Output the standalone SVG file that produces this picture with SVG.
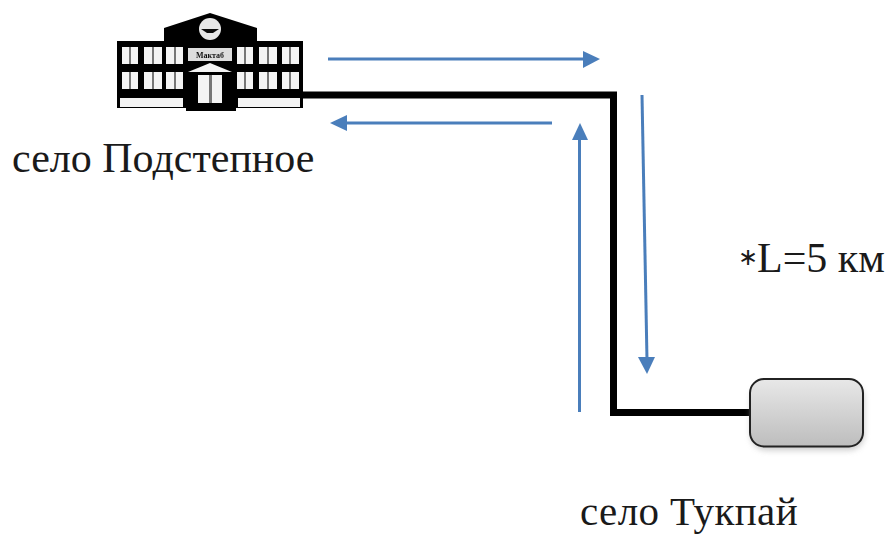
<svg xmlns="http://www.w3.org/2000/svg" width="890" height="534" viewBox="0 0 890 534">
<style>
.t{font-family:"Liberation Serif","Times New Roman",serif;font-size:42px;fill:#1a1a1a}
.a{stroke:#4a7ebb;stroke-width:3;fill:none}
.h{fill:#4a7ebb}
.w{fill:#f4f4f4}
</style>
<defs>
<linearGradient id="g" x1="0" y1="0" x2="0" y2="1"><stop offset="0" stop-color="#e8e8e8"/><stop offset="1" stop-color="#bdbdbd"/></linearGradient>
<filter id="s" x="-10%" y="-10%" width="120%" height="130%"><feGaussianBlur stdDeviation="3"/></filter>
<filter id="b" x="-2%" y="-2%" width="104%" height="104%"><feGaussianBlur stdDeviation="0.7"/></filter>
</defs>
<rect width="890" height="534" fill="#fff"/>
<g id="connectors">
<path d="M300 95H613.500V412.500H752" fill="none" stroke="#000" stroke-width="7"/>
<path class="a" d="M328 59H586"/><path class="h" d="M583 51L600 59L583 68Z"/>
<path class="a" d="M552 123H346"/><path class="h" d="M347 115L330 123L347 131Z"/>
<path class="a" d="M579.500 412V138"/><path class="h" d="M572 140L580 123L588 140Z"/>
<path class="a" d="M642 95L647 360"/><path class="h" d="M638 357L647 374L655 357Z"/>
</g>
<g id="school" filter="url(#b)">
<path d="M117 41H164V28L210 13L257 28V41H303V108H236V111H186V108H117Z" fill="#000"/>
<circle cx="210" cy="29" r="11" fill="#e8e8e8"/><path d="M201 29H219L213 33H207Z" fill="#111"/>
<rect x="188" y="48" width="44" height="13" fill="#ddd"/>
<text x="210" y="58" text-anchor="middle" font-family="Liberation Serif,serif" font-size="8" font-weight="700" fill="#111">Мактаб</text>
<g class="w">
<rect x="122" y="47" width="16" height="17"/><rect x="144" y="47" width="18" height="17"/><rect x="166" y="47" width="17" height="17"/>
<rect x="237" y="47" width="16" height="17"/><rect x="259" y="47" width="18" height="17"/><rect x="282" y="47" width="17" height="17"/>
<rect x="122" y="72" width="16" height="17"/><rect x="144" y="72" width="18" height="17"/><rect x="166" y="72" width="17" height="17"/>
<rect x="237" y="72" width="16" height="17"/><rect x="259" y="72" width="18" height="17"/><rect x="282" y="72" width="17" height="17"/>
<rect x="120" y="98" width="63" height="9"/><rect x="238" y="98" width="62" height="9"/>
<rect x="198" y="75" width="24" height="28"/>
<path d="M188 72L210 63L232 72Z"/>
</g>
<g fill="#777">
<rect x="129" y="47" width="2" height="17"/><rect x="152" y="47" width="2" height="17"/><rect x="174" y="47" width="2" height="17"/>
<rect x="244" y="47" width="2" height="17"/><rect x="267" y="47" width="2" height="17"/><rect x="289" y="47" width="2" height="17"/>
<rect x="129" y="72" width="2" height="17"/><rect x="152" y="72" width="2" height="17"/><rect x="174" y="72" width="2" height="17"/>
<rect x="244" y="72" width="2" height="17"/><rect x="267" y="72" width="2" height="17"/><rect x="289" y="72" width="2" height="17"/>
<rect x="209" y="75" width="3" height="28"/>
</g>
</g>
<g id="box">
<rect x="751" y="384" width="113" height="66" rx="15" fill="#999" opacity=".55" filter="url(#s)"/>
<rect x="750" y="379" width="113" height="67.500" rx="14" fill="url(#g)" stroke="#222" stroke-width="2"/>
</g>
<g id="labels">
<text class="t" x="12" y="172">село Подстепное</text>
<text class="t" x="738" y="272"><tspan font-size="24" dy="-7">∗</tspan><tspan x="757" dy="7">L=5 км</tspan></text>
<text class="t" x="580" y="525" style="font-size:41px;letter-spacing:.4px">село Тукпай</text>
</g>
</svg>
